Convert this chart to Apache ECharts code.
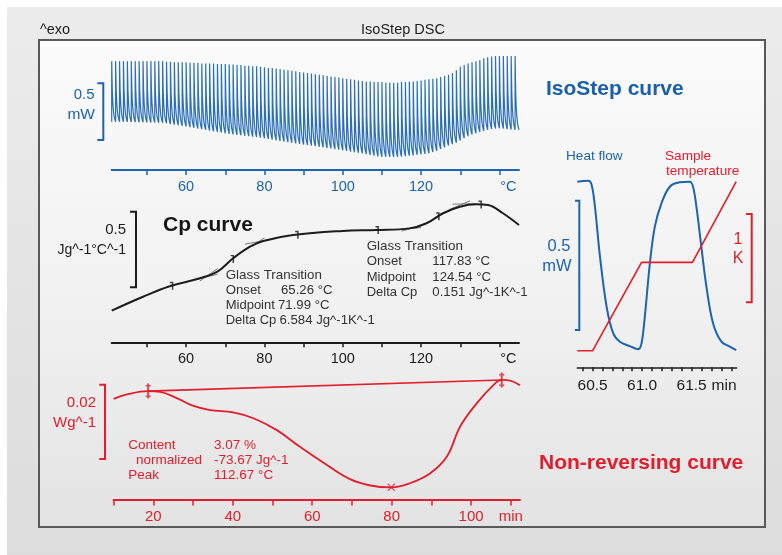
<!DOCTYPE html>
<html>
<head>
<meta charset="utf-8">
<title>IsoStep DSC</title>
<script src="https://cdn.jsdelivr.net/npm/echarts@6/dist/echarts.min.js"></script>
<style>
  html, body { margin: 0; padding: 0; background: #ffffff; }
  #chart { width: 782px; height: 555px; }
</style>
</head>
<body>
<div id="chart"></div>
<script>
// ---------- IsoStep raw heat flow: one isothermal step per kelvin ----------
const isoStepFirstC = 41;
const isoPeak = [
  0.96, 0.96, 0.96, 0.96, 0.96, 0.96, 0.96, 0.96, 0.96, 0.96,
  0.96, 0.96, 0.96, 0.96, 0.955, 0.955, 0.95, 0.95, 0.95, 0.95,
  0.945, 0.945, 0.945, 0.94, 0.94, 0.94, 0.94, 0.935, 0.935, 0.935,
  0.93, 0.93, 0.925, 0.925, 0.92, 0.92, 0.915, 0.915, 0.91, 0.905,
  0.90, 0.90, 0.895, 0.89, 0.885, 0.88, 0.875, 0.87, 0.865, 0.86,
  0.855, 0.85, 0.845, 0.84, 0.835, 0.83, 0.825, 0.82, 0.815, 0.81,
  0.805, 0.80, 0.795, 0.79, 0.785, 0.78, 0.78, 0.775, 0.775, 0.775,
  0.77, 0.77, 0.77, 0.77, 0.775, 0.775, 0.78, 0.78, 0.785, 0.79,
  0.795, 0.80, 0.805, 0.81, 0.82, 0.83, 0.84, 0.855, 0.88, 0.91,
  0.925, 0.94, 0.95, 0.96, 0.97, 0.985, 0.995, 1.0, 1.005, 1.005,
  1.005, 1.005, 1.005, 1.005
];
const isoTrough = [
  0.426, 0.425, 0.425, 0.424, 0.423, 0.422, 0.421, 0.42, 0.42, 0.419,
  0.418, 0.417, 0.417, 0.412, 0.405, 0.40, 0.395, 0.39, 0.384, 0.378,
  0.372, 0.366, 0.36, 0.354, 0.348, 0.342, 0.336, 0.33, 0.324, 0.318,
  0.314, 0.31, 0.306, 0.302, 0.298, 0.294, 0.29, 0.285, 0.28, 0.274,
  0.268, 0.262, 0.256, 0.25, 0.245, 0.24, 0.235, 0.23, 0.225, 0.22,
  0.215, 0.21, 0.205, 0.20, 0.195, 0.19, 0.185, 0.18, 0.174, 0.168,
  0.162, 0.157, 0.152, 0.147, 0.14, 0.133, 0.126, 0.12, 0.117, 0.116,
  0.116, 0.116, 0.117, 0.119, 0.122, 0.126, 0.13, 0.134, 0.138, 0.142,
  0.147, 0.158, 0.17, 0.185, 0.20, 0.215, 0.228, 0.24, 0.26, 0.28,
  0.298, 0.312, 0.324, 0.335, 0.345, 0.355, 0.362, 0.366, 0.368, 0.365,
  0.36, 0.357, 0.355, 0.353
];
// heat-flow decay during one heating segment (fraction of the step, normalised level)
const heatingFrac  = [0.06, 0.15, 0.3, 0.45, 0.6, 0.8, 1.0];
const heatingLevel = [0.8, 0.52, 0.3, 0.18, 0.1, 0.04, 0];
const isoScaleBar = [0.265, 0.765];            // 0.5 mW

// ---------- reversing Cp ----------
const cpTemp  = [41, 49, 56, 63.5, 68, 72, 76.3, 79.7, 87.3, 100, 108.6, 117, 121.4, 125.6, 129.9, 134.1, 137.1, 140.9, 145];
const cpValue = [0.209, 0.301, 0.372, 0.423, 0.467, 0.555, 0.632, 0.670, 0.709, 0.736, 0.742, 0.753, 0.787, 0.853, 0.896, 0.912, 0.907, 0.853, 0.775];
const cpEvalTemp  = [56.3, 71.8, 88.3, 108.8, 124.3, 135.1];
const cpEvalValue = [0.374, 0.551, 0.711, 0.742, 0.833, 0.911];
const cpTangents = [
  [62.5, 0.413, 68, 0.450], [63.5, 0.405, 68, 0.487],
  [74.5, 0.600, 80, 0.690], [75, 0.648, 81.5, 0.680],
  [114.5, 0.745, 120, 0.758], [115, 0.735, 120, 0.770],
  [127, 0.875, 132.5, 0.935], [128, 0.913, 134, 0.916]
];
const cpScaleBar = [0.3635, 0.8635];           // 0.5 Jg^-1°C^-1
const tempTicks  = [50, 60, 70, 80, 90, 100, 110, 120, 130, 140];
const tempLabels = [60, 80, 100, 120];
const tempUnitAt = 142.3;

// ---------- non-reversing heat flow ----------
const nrTime  = [10, 13.3, 18.7, 21.7, 25.9, 30.1, 34.3, 40.1, 45.2, 51.1, 56.9, 63.7, 69.5, 74.6, 79.9, 84.6, 89.7, 93.9, 97.2, 101.4, 105.6, 107.7, 109.8, 112.3];
const nrValue = [0.0272, 0.0284, 0.0293, 0.0291, 0.0274, 0.0253, 0.0242, 0.0236, 0.0220, 0.0188, 0.0143, 0.0094, 0.0056, 0.0039, 0.0034, 0.0045, 0.0072, 0.0117, 0.0197, 0.0260, 0.0309, 0.0323, 0.0321, 0.0309];
const nrLimitTime  = [18.7, 107.7];
const nrLimitValue = [0.0293, 0.0323];
const nrPeakTime = 79.9, nrPeakValue = 0.0034;
const nrScaleBar = [0.011, 0.031];             // 0.02 Wg^-1
const timeTicks  = [10, 20, 30, 40, 50, 60, 70, 80, 90, 100, 110];
const timeLabels = [20, 40, 60, 80, 100];
const timeUnitAt = 110;

// ---------- single IsoStep period ----------
const stepTime     = [60.345, 60.456, 60.49, 60.523, 60.574, 60.641, 60.708, 60.775, 60.876, 60.96, 60.994, 61.027, 61.078, 61.128, 61.195, 61.279, 61.38, 61.48, 61.514, 61.548, 61.598, 61.649, 61.716, 61.8, 61.884, 61.95];
const stepHeatFlow = [0.717, 0.721, 0.705, 0.621, 0.428, 0.234, 0.131, 0.099, 0.082, 0.070, 0.093, 0.196, 0.402, 0.544, 0.634, 0.698, 0.715, 0.717, 0.698, 0.621, 0.466, 0.312, 0.170, 0.099, 0.080, 0.066];
const stepTempTime = [60.345, 60.5, 60.994, 61.508, 61.95];
const stepTempK    = [0, 0, 1, 1, 1.914];
const stepTicks  = [60.4, 60.5, 60.6, 60.7, 60.8, 60.9, 61.0, 61.1, 61.2, 61.3, 61.4, 61.5, 61.6, 61.7, 61.8, 61.9];
const stepLabels = [60.5, 61.0, 61.5];
const stepUnitAt = 61.827;
const stepHfScaleBar = [0.144, 0.644];         // 0.5 mW
const stepTempScaleBar = [0.548, 1.548];       // 1 K

// ---------- styling ----------
const FONT = '"Liberation Sans", Arial, sans-serif';
const BLUE = '#1d64ae';
const WAVE = '#2a6fb8';
const RED = '#e21d2c';
const INK = '#1c1c1c';

// assemble the stepped raw signal from the per-step extremes
const isoData = [];
isoPeak.forEach((pk, i) => {
  const t0 = isoStepFirstC + i;
  const lo = isoTrough[i];
  isoData.push([t0, lo], [t0, pk]);
  heatingFrac.forEach((f, k) => isoData.push([t0 + f, lo + heatingLevel[k] * (pk - lo)]));
});

const zip = (a, b) => a.map((v, i) => [v, b[i]]);

function xAxisOf(grid, min, max, color, ticks, labels, unitAt, unit, fmt, size, margin, tickLen, lineW) {
  return {
    gridIndex: grid, type: 'value', min: min, max: max, position: 'bottom',
    axisLine: { show: true, onZero: false, lineStyle: { color: color, width: lineW } },
    axisTick: { show: true, customValues: ticks, length: tickLen, lineStyle: { color: color, width: 1.5 } },
    axisLabel: {
      customValues: labels.concat([unitAt]),
      formatter: v => (Math.abs(v - unitAt) < 1e-6 ? unit : fmt(v)),
      color: color, fontSize: size, fontFamily: FONT, margin: margin
    },
    splitLine: { show: false }
  };
}
const yAxisOf = (grid, min, max) => ({ gridIndex: grid, type: 'value', min: min, max: max, show: false });

const plain = v => String(v);

const option = {
  animation: false,
  grid: [
    { left: 111.7, top: 45.26, width: 407.3, height: 124.74, outerBoundsMode: 'none' },
    { left: 111.7, top: 191, width: 407.3, height: 151.3, outerBoundsMode: 'none' },
    { left: 113.6, top: 366.2, width: 406.4, height: 133.8, outerBoundsMode: 'none' },
    { left: 577.3, top: 170, width: 159.4, height: 197.3, outerBoundsMode: 'none' }
  ],
  xAxis: [
    xAxisOf(0, 41, 145, BLUE, tempTicks, tempLabels, tempUnitAt, '°C', plain, 14.5, 9, 5, 2),
    xAxisOf(1, 41, 145, INK, tempTicks, tempLabels, tempUnitAt, '°C', plain, 14.5, 9, 5, 2),
    xAxisOf(2, 10, 112.3, RED, timeTicks, timeLabels, timeUnitAt, 'min', plain, 15, 9, 5.5, 2),
    xAxisOf(3, 60.345, 61.955, INK, stepTicks, stepLabels, stepUnitAt, 'min', v => v.toFixed(1), 15.5, 10, 4, 1.5)
  ],
  yAxis: [
    yAxisOf(0, 0, 1.1),
    yAxisOf(1, 0, 1.0),
    yAxisOf(2, 0, 0.036),
    yAxisOf(3, 0, 0.7627),
    yAxisOf(3, -0.188, 2.046)
  ],
  series: [
    {
      name: 'IsoStep', type: 'line', xAxisIndex: 0, yAxisIndex: 0,
      data: isoData, showSymbol: false, smooth: false,
      lineStyle: { color: WAVE, width: 1.2 }, z: 3
    },
    {
      name: 'Cp', type: 'line', xAxisIndex: 1, yAxisIndex: 1,
      data: zip(cpTemp, cpValue), showSymbol: false, smooth: 0.4,
      lineStyle: { color: INK, width: 2 }, z: 4
    },
    ...cpTangents.map((s, i) => ({
      name: 'tangent' + i, type: 'line', xAxisIndex: 1, yAxisIndex: 1,
      data: [[s[0], s[1]], [s[2], s[3]]], showSymbol: false,
      lineStyle: { color: '#7a7a7a', width: 1 }, z: 3
    })),
    {
      name: 'Cp evaluation', type: 'scatter', xAxisIndex: 1, yAxisIndex: 1,
      data: zip(cpEvalTemp, cpEvalValue),
      symbol: 'path://M2,0h1.6v10h-1.6z M0,0h3.6v1.8h-3.6z', symbolSize: [3.5, 8],
      itemStyle: { color: INK }, z: 5
    },
    {
      name: 'Non-reversing', type: 'line', xAxisIndex: 2, yAxisIndex: 2,
      data: zip(nrTime, nrValue), showSymbol: false, smooth: 0.4,
      lineStyle: { color: RED, width: 1.8 }, z: 4
    },
    {
      name: 'baseline', type: 'line', xAxisIndex: 2, yAxisIndex: 2,
      data: zip(nrLimitTime, nrLimitValue), showSymbol: false,
      lineStyle: { color: RED, width: 1.6 }, z: 4
    },
    {
      name: 'limits', type: 'scatter', xAxisIndex: 2, yAxisIndex: 2,
      data: zip(nrLimitTime, nrLimitValue),
      symbol: 'path://M2,0h2v20h-2z M0.5,2h5v2h-5z M0.5,16h5v2h-5z', symbolSize: [5, 15],
      itemStyle: { color: RED }, z: 5
    },
    {
      name: 'peak', type: 'scatter', xAxisIndex: 2, yAxisIndex: 2,
      data: [[nrPeakTime, nrPeakValue]],
      symbol: 'path://M1,0L5,4L9,0L10,1L6,5L10,9L9,10L5,6L1,10L0,9L4,5L0,1Z', symbolSize: 8,
      itemStyle: { color: RED }, z: 5
    },
    {
      name: 'Heat flow', type: 'line', xAxisIndex: 3, yAxisIndex: 3,
      data: zip(stepTime, stepHeatFlow), showSymbol: false, smooth: 0.35,
      lineStyle: { color: BLUE, width: 2 }, z: 4
    },
    {
      name: 'Sample temperature', type: 'line', xAxisIndex: 3, yAxisIndex: 4,
      data: zip(stepTempTime, stepTempK), showSymbol: false,
      lineStyle: { color: RED, width: 1.6 }, z: 4
    }
  ]
};

const chart = echarts.init(document.getElementById('chart'), null, { renderer: 'canvas' });
chart.setOption(option);

// ---------- frame, captions and scale bars ----------
const txt = (x, y, text, color, size, align, weight) => ({
  type: 'text', x: x, y: y, z: 100,
  style: {
    text: text, fill: color, fontSize: size, fontFamily: FONT,
    fontWeight: weight || 'normal', align: align || 'left', verticalAlign: 'middle'
  }
});
const yPx = (axis, v) => chart.convertToPixel({ yAxisIndex: axis }, v);
const bracket = (axis, range, x, tickTo, color) => {
  const lo = yPx(axis, range[0]), hi = yPx(axis, range[1]);
  return {
    type: 'polyline', z: 100,
    shape: { points: [[tickTo, hi], [x, hi], [x, lo], [tickTo, lo]] },
    style: { stroke: color, lineWidth: 2, fill: null }
  };
};

const NOTE = '#333333';
const graphics = [
  { type: 'rect', z: -20, shape: { x: 0, y: 0, width: 782, height: 555 },
    style: { fill: new echarts.graphic.LinearGradient(0, 0, 0, 1, [
      { offset: 0, color: '#ececec' }, { offset: 1, color: '#dcdcdc' }]) } },
  { type: 'rect', z: -19, shape: { x: 0, y: 0, width: 782, height: 7 }, style: { fill: '#ffffff' } },
  { type: 'rect', z: -19, shape: { x: 0, y: 0, width: 7, height: 555 }, style: { fill: '#ffffff' } },
  { type: 'rect', z: -18, shape: { x: 39, y: 40, width: 726, height: 487 },
    style: { fill: new echarts.graphic.LinearGradient(0, 0, 0, 1, [
      { offset: 0, color: '#fbfbfb' }, { offset: 0.55, color: '#f1f1f1' }, { offset: 1, color: '#e3e3e3' }]),
      stroke: '#585858', lineWidth: 2 } },

  txt(40, 30, '^exo', INK, 14.5),
  txt(403, 30, 'IsoStep DSC', INK, 14.5, 'center'),

  txt(94.5, 95, '0.5', BLUE, 15, 'right'),
  txt(95, 115, 'mW', BLUE, 15.5, 'right'),
  bracket(0, isoScaleBar, 103.3, 97.3, BLUE),
  txt(546, 89, 'IsoStep curve', '#1a5fab', 21, 'left', 'bold'),

  txt(126, 230, '0.5', INK, 15, 'right'),
  txt(126, 250, 'Jg^-1°C^-1', INK, 14, 'right'),
  bracket(1, cpScaleBar, 136, 130, INK),
  txt(163, 225, 'Cp curve', '#151515', 21, 'left', 'bold'),

  txt(225.7, 275, 'Glass Transition', NOTE, 13.4),
  txt(225.7, 290, 'Onset', NOTE, 13.2),
  txt(281, 290, '65.26 °C', NOTE, 13.2),
  txt(225.7, 305.7, 'Midpoint', NOTE, 13),
  txt(278, 305.7, '71.99 °C', NOTE, 13.2),
  txt(225.7, 320.7, 'Delta Cp', NOTE, 13),
  txt(279.5, 320.7, '6.584 Jg^-1K^-1', NOTE, 13.2),

  txt(366.7, 246.7, 'Glass Transition', NOTE, 13.4),
  txt(366.7, 261.7, 'Onset', NOTE, 13.2),
  txt(432.3, 261.7, '117.83 °C', NOTE, 13.2),
  txt(366.7, 277.3, 'Midpoint', NOTE, 13),
  txt(432.3, 277.3, '124.54 °C', NOTE, 13.2),
  txt(366.7, 292.7, 'Delta Cp', NOTE, 13),
  txt(432.3, 292.7, '0.151 Jg^-1K^-1', NOTE, 13.2),

  txt(96, 403.3, '0.02', RED, 15, 'right'),
  txt(96, 423.3, 'Wg^-1', RED, 15, 'right'),
  bracket(2, nrScaleBar, 105, 99.3, RED),
  txt(128.3, 445, 'Content', RED, 13.5),
  txt(136, 460, 'normalized', RED, 13.5),
  txt(128.3, 475.7, 'Peak', RED, 13.5),
  txt(214, 445, '3.07 %', RED, 13.5),
  txt(214, 460, '-73.67 Jg^-1', RED, 13.5),
  txt(214, 475.7, '112.67 °C', RED, 13.5),
  txt(539, 463, 'Non-reversing curve', RED, 21, 'left', 'bold'),

  txt(566, 156, 'Heat flow', BLUE, 13.6),
  txt(665, 156.7, 'Sample', RED, 13.6),
  txt(666, 171.7, 'temperature', RED, 13.6),
  txt(559, 246.7, '0.5', BLUE, 16.5, 'center'),
  txt(557, 266.7, 'mW', BLUE, 16.5, 'center'),
  bracket(3, stepHfScaleBar, 579.3, 575, BLUE),
  txt(738, 240, '1', RED, 16, 'center'),
  txt(738, 258.3, 'K', RED, 16, 'center'),
  bracket(4, stepTempScaleBar, 751.7, 746, RED)
];

chart.setOption({ graphic: { elements: graphics } });
</script>
</body>
</html>
